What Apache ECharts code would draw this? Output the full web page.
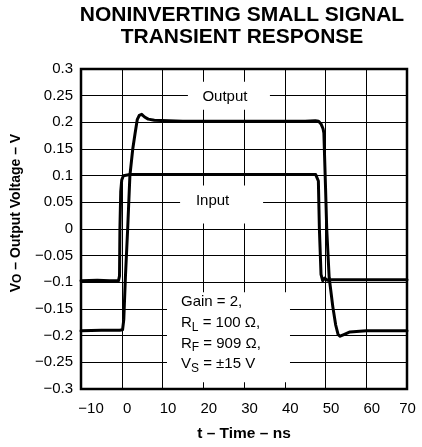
<!DOCTYPE html>
<html>
<head>
<meta charset="utf-8">
<script src="https://cdn.jsdelivr.net/npm/echarts@6/dist/echarts.min.js"></script>
<style>
html,body{margin:0;padding:0;background:#fff;}
#c{width:422px;height:447px;}
</style>
</head>
<body>
<div id="c"></div>
<script>
// ---- data ----
const xTicks = [-10, 0, 10, 20, 30, 40, 50, 60, 70];
const yTicks = [-0.3, -0.25, -0.2, -0.15, -0.1, -0.05, 0, 0.05, 0.1, 0.15, 0.2, 0.25, 0.3];

const inputT = [-10, -6, -3, -0.8, -0.55, -0.45, -0.25, 0, 0.4, 2, 10, 20, 30, 40, 47.6, 48.0, 48.25, 48.5, 48.9, 49.3, 49.8, 50.4, 51, 55, 60, 70];
const inputV = [-0.097, -0.096, -0.097, -0.097, -0.088, 0.0, 0.07, 0.092, 0.1, 0.102, 0.102, 0.102, 0.102, 0.102, 0.102, 0.1, 0.09, 0.0, -0.085, -0.097, -0.092, -0.096, -0.095, -0.095, -0.095, -0.095];

const outputT = [-10, -5, -0.5, 0.2, 0.5, 0.9, 1.45, 2.0, 2.7, 3.25, 3.8, 4.3, 4.9, 5.6, 6.5, 8, 15, 25, 35, 45, 47.5, 48.3, 48.9, 49.4, 49.6, 50.0, 50.3, 50.9, 51.8, 52.5, 53.1, 53.6, 54.5, 56, 60, 70];
const outputV = [-0.191, -0.19, -0.19, -0.189, -0.17, -0.09, 0.0, 0.1, 0.15, 0.178, 0.205, 0.213, 0.215, 0.21, 0.206, 0.204, 0.202, 0.202, 0.202, 0.202, 0.203, 0.202, 0.197, 0.188, 0.18, 0.08, 0.0, -0.091, -0.146, -0.18, -0.198, -0.201, -0.198, -0.193, -0.191, -0.191];

const titleLines = ['NONINVERTING SMALL SIGNAL', 'TRANSIENT RESPONSE'];
const xName = 't – Time – ns';
const traceLabels = ['Output', 'Input'];
const condLines = ['{n|Gain = 2,}', '{n|R}{s|L}{n| = 100 Ω,}', '{n|R}{s|F}{n| = 909 Ω,}', '{n|V}{s|S}{n| = ±15 V}'];

// ---- chart ----
const FONT = '"Liberation Sans", Arial, Helvetica, sans-serif';
const fmt = v => {
  const r = Math.round(v * 100) / 100;
  return r < 0 ? '\u2212' + Math.abs(r) : String(r);
};
const xFmt = v => {
  const s = fmt(v);
  if (v === xTicks[0]) return '{f|' + s + '}';
  if (v === xTicks[xTicks.length - 1]) return '{l|' + s + '}';
  return '{m|' + s + '}';
};
const zip = (a, b) => a.map((t, i) => [t, b[i]]);
const tickRich = {fontFamily: FONT, fontSize: 15, color: '#000'};

const chart = echarts.init(document.getElementById('c'), null, {renderer: 'canvas'});
const option = {
  animation: false,
  backgroundColor: '#fff',
  title: {
    text: titleLines.join('\n'),
    left: 242, top: 4, textAlign: 'center', padding: 0,
    textStyle: {fontFamily: FONT, fontWeight: 'bold', fontSize: 21, lineHeight: 22, color: '#000'}
  },
  grid: {left: 81, right: 15, top: 69, bottom: 54, show: true, borderColor: '#000', borderWidth: 2.5, backgroundColor: 'transparent'},
  xAxis: {
    type: 'value', min: xTicks[0], max: xTicks[xTicks.length - 1], interval: xTicks[1] - xTicks[0],
    axisLine: {show: false}, axisTick: {show: false},
    splitLine: {show: true, lineStyle: {color: '#000', width: 1}},
    axisLabel: {formatter: xFmt, fontFamily: FONT, fontSize: 15, color: '#000', margin: 12,
      rich: {
        f: Object.assign({padding: [0, 0, 0, 20]}, tickRich),
        m: Object.assign({padding: [0, 0, 0, 11]}, tickRich),
        l: Object.assign({padding: [0, 0, 0, 1]}, tickRich)
      }},
    name: xName, nameLocation: 'middle', nameGap: 37,
    nameTextStyle: {fontFamily: FONT, fontWeight: 'bold', fontSize: 15.5, color: '#000'}
  },
  yAxis: {
    type: 'value', min: yTicks[0], max: yTicks[yTicks.length - 1], interval: 0.05,
    axisLine: {show: false}, axisTick: {show: false},
    splitLine: {show: true, lineStyle: {color: '#000', width: 1}},
    axisLabel: {formatter: fmt, fontFamily: FONT, fontSize: 15, color: '#000', margin: 8}
  },
  series: [
    {type: 'line', name: 'Input', data: zip(inputT, inputV), showSymbol: false, symbol: 'none',
     lineStyle: {color: '#000', width: 3, join: 'round', cap: 'round'}, z: 3},
    {type: 'line', name: 'Output', data: zip(outputT, outputV), showSymbol: false, symbol: 'none',
     lineStyle: {color: '#000', width: 3, join: 'round', cap: 'round'}, z: 3}
  ]
};
chart.setOption(option);

// annotation boxes anchored in data coordinates
const P = (t, v) => chart.convertToPixel({gridIndex: 0}, [t, v]);
const outC = P(26.3, 0.25);
const inC = P(24.5, 0.046);
const condTL = P(11.1, -0.1185);
const elements = [];
function box(cx, cy, w, h) {
  elements.push({type: 'rect', z: 10, shape: {x: cx - w / 2, y: cy - h / 2, width: w, height: h}, style: {fill: '#fff'}});
}
box(outC[0], outC[1], 82, 28);
box(inC[0], inC[1], 83, 38);
elements.push({type: 'rect', z: 10, shape: {x: condTL[0], y: condTL[1], width: 123, height: 90}, style: {fill: '#fff'}});
elements.push({type: 'text', z: 11, x: outC[0] - 4, y: outC[1] + 1, style: {text: traceLabels[0], font: '15px ' + FONT, fill: '#000', align: 'center', verticalAlign: 'middle'}});
elements.push({type: 'text', z: 11, x: inC[0] - 9, y: inC[1] - 4, style: {text: traceLabels[1], font: '15px ' + FONT, fill: '#000', align: 'center', verticalAlign: 'middle'}});
elements.push({type: 'text', z: 11, x: condTL[0] + 14, y: condTL[1] + 41, style: {
  text: condLines.join('\n'), align: 'left', verticalAlign: 'middle', fill: '#000',
  rich: {
    n: {fontFamily: FONT, fontSize: 15, lineHeight: 20.7, color: '#000', verticalAlign: 'middle'},
    s: {fontFamily: FONT, fontSize: 12, lineHeight: 11, color: '#000', verticalAlign: 'bottom'}
  }
}});
// y-axis title with subscript
elements.push({type: 'text', z: 11, x: 16, y: 213, rotation: Math.PI / 2, style: {
  text: '{n|V}{s|O}{n| – Output Voltage – V}', align: 'center', verticalAlign: 'middle', fill: '#000',
  rich: {
    n: {fontFamily: FONT, fontSize: 14, fontWeight: 'bold', lineHeight: 16, color: '#000', verticalAlign: 'middle'},
    s: {fontFamily: FONT, fontSize: 12, fontWeight: 'bold', lineHeight: 10, color: '#000', verticalAlign: 'bottom'}
  }
}});
chart.setOption({graphic: {elements: elements}});
</script>
</body>
</html>
